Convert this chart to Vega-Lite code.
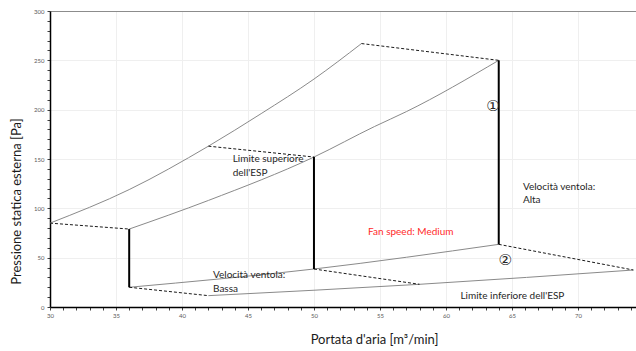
{
  "$schema": "https://vega.github.io/schema/vega-lite/v6.json",
  "autosize": {"type": "none"},
  "padding": {"left": 50, "top": 11, "right": 0, "bottom": 44},
  "width": 586,
  "height": 296,
  "background": "white",
  "config": {"view": {"stroke": null}, "font": "Lato"},
  "datasets": {
    "curves": [
      {"series": "upper_back", "x": 30, "y": 85},
      {"series": "upper_back", "x": 36, "y": 119},
      {"series": "upper_back", "x": 42, "y": 163},
      {"series": "upper_back", "x": 46, "y": 196},
      {"series": "upper_back", "x": 50, "y": 231},
      {"series": "upper_back", "x": 53.6, "y": 267},
      {"series": "upper_front", "x": 36, "y": 79},
      {"series": "upper_front", "x": 42, "y": 108},
      {"series": "upper_front", "x": 50, "y": 152},
      {"series": "upper_front", "x": 54.6, "y": 183},
      {"series": "upper_front", "x": 57, "y": 198},
      {"series": "upper_front", "x": 64, "y": 250},
      {"series": "lower_front", "x": 36, "y": 20},
      {"series": "lower_front", "x": 50, "y": 38.5},
      {"series": "lower_front", "x": 64, "y": 63.5},
      {"series": "lower_back", "x": 42, "y": 11.5},
      {"series": "lower_back", "x": 58, "y": 23},
      {"series": "lower_back", "x": 74.2, "y": 37.5}
    ],
    "dashes": [
      {"seg": "d1", "x": 30, "y": 85},
      {"seg": "d1", "x": 36, "y": 79},
      {"seg": "d2", "x": 42, "y": 163},
      {"seg": "d2", "x": 50, "y": 152},
      {"seg": "d3", "x": 53.6, "y": 267},
      {"seg": "d3", "x": 64, "y": 250},
      {"seg": "d4", "x": 36, "y": 20},
      {"seg": "d4", "x": 42, "y": 11.5},
      {"seg": "d5", "x": 50, "y": 38.5},
      {"seg": "d5", "x": 58, "y": 23},
      {"seg": "d6", "x": 64, "y": 63.5},
      {"seg": "d6", "x": 74.2, "y": 37.5}
    ],
    "verticals": [
      {"seg": "low", "x": 36, "y": 20},
      {"seg": "low", "x": 36, "y": 79},
      {"seg": "medium", "x": 50, "y": 38.5},
      {"seg": "medium", "x": 50, "y": 152},
      {"seg": "high", "x": 64, "y": 63.5},
      {"seg": "high", "x": 64, "y": 250}
    ],
    "notes": [
      {"text": "Limite superiore", "x": 43.84, "y": 150, "kind": "note"},
      {"text": "dell'ESP", "x": 43.84, "y": 136, "kind": "note"},
      {"text": "Velocità ventola:", "x": 42.35, "y": 32.4, "kind": "note"},
      {"text": "Bassa", "x": 42.35, "y": 18.2, "kind": "note"},
      {"text": "Velocità ventola:", "x": 65.83, "y": 122, "kind": "note"},
      {"text": "Alta", "x": 65.83, "y": 108, "kind": "note"},
      {"text": "Limite inferiore dell'ESP", "x": 61.1, "y": 11.1, "kind": "note"},
      {"text": "Fan speed: Medium", "x": 54.1, "y": 76, "kind": "speed"}
    ],
    "marks": [
      {"text": "①", "x": 63.56, "y": 203.6},
      {"text": "②", "x": 64.5, "y": 47.6}
    ]
  },
  "encoding": {
    "x": {
      "field": "x",
      "type": "quantitative",
      "scale": {"domain": [30, 74.4], "nice": false, "zero": false},
      "axis": {
        "values": [30,31,32,33,34,35,36,37,38,39,40,41,42,43,44,45,46,47,48,49,50,51,52,53,54,55,56,57,58,59,60,61,62,63,64,65,66,67,68,69,70,71,72,73,74],
        "labelExpr": "datum.value % 5 === 0 ? datum.label : ''",
        "labelOverlap": false,
        "labelFlush": false,
        "labelFontSize": 6,
        "labelColor": "#595959",
        "labelPadding": 2,
        "tickSize": 3,
        "tickColor": "#404040",
        "domainColor": "#000000",
        "domainWidth": 1.5,
        "grid": true,
        "gridColor": "#efefef",
        "gridOpacity": {"condition": {"test": "datum.value % 5 === 0", "value": 1}, "value": 0},
        "title": "Portata d'aria [m³/min]",
        "titleFont": "Lato",
        "titleFontSize": 13,
        "titleFontWeight": "normal",
        "titleColor": "#1a1a1a",
        "titleX": 324,
        "titleY": 36,
        "titleAlign": "center",
        "titleBaseline": "alphabetic"
      }
    },
    "y": {
      "field": "y",
      "type": "quantitative",
      "scale": {"domain": [0, 300], "nice": false},
      "axis": {
        "values": [0,10,20,30,40,50,60,70,80,90,100,110,120,130,140,150,160,170,180,190,200,210,220,230,240,250,260,270,280,290,300],
        "labelExpr": "datum.value % 50 === 0 ? datum.label : ''",
        "labelOverlap": false,
        "labelFlush": false,
        "labelFontSize": 6,
        "labelColor": "#595959",
        "labelPadding": 3,
        "tickSize": 3,
        "tickColor": "#404040",
        "domainColor": "#000000",
        "domainWidth": 1.5,
        "grid": true,
        "gridColor": {"condition": {"test": "datum.value === 300", "value": "#8c8c8c"}, "value": "#efefef"},
        "gridOpacity": {"condition": {"test": "datum.value % 50 === 0", "value": 1}, "value": 0},
        "title": "Pressione statica esterna [Pa]",
        "titleFont": "Lato",
        "titleFontSize": 13,
        "titleFontWeight": "normal",
        "titleColor": "#1a1a1a",
        "titleX": -30,
        "titleY": 190,
        "titleAlign": "center",
        "titleBaseline": "alphabetic"
      }
    }
  },
  "layer": [
    {
      "data": {"name": "curves"},
      "mark": {"type": "line", "color": "#8a8a8a", "strokeWidth": 1, "interpolate": "monotone"},
      "encoding": {"detail": {"field": "series"}}
    },
    {
      "data": {"name": "dashes"},
      "mark": {"type": "line", "color": "#1a1a1a", "strokeWidth": 1, "strokeDash": [3, 2]},
      "encoding": {"detail": {"field": "seg"}}
    },
    {
      "data": {"name": "verticals"},
      "mark": {"type": "line", "color": "#000000", "strokeWidth": 2},
      "encoding": {"detail": {"field": "seg"}, "order": {"field": "y"}}
    },
    {
      "data": {"name": "notes"},
      "transform": [{"filter": "datum.kind === 'note'"}],
      "mark": {"type": "text", "align": "left", "baseline": "middle", "font": "Lato", "fontSize": 10, "color": "#262626"},
      "encoding": {"text": {"field": "text"}}
    },
    {
      "data": {"name": "notes"},
      "transform": [{"filter": "datum.kind === 'speed'"}],
      "mark": {"type": "text", "align": "left", "baseline": "middle", "font": "Lato", "fontSize": 10, "color": "#ff2a2a"},
      "encoding": {"text": {"field": "text"}}
    },
    {
      "data": {"name": "marks"},
      "mark": {"type": "text", "align": "center", "baseline": "middle", "font": "DejaVu Sans", "fontSize": 15, "color": "#262626"},
      "encoding": {"text": {"field": "text"}}
    }
  ]
}
